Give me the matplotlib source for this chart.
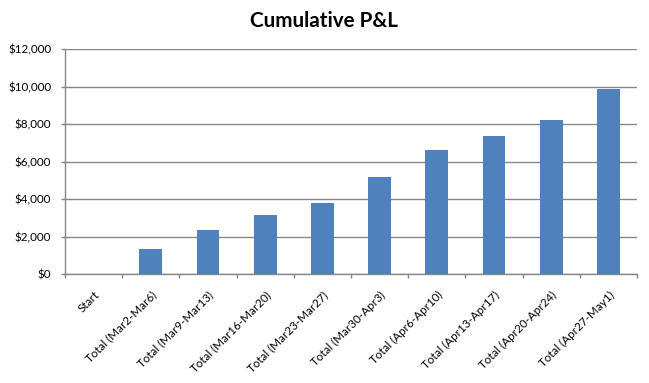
import numpy as np
import matplotlib
matplotlib.use("Agg")
import matplotlib.pyplot as plt
from matplotlib.ticker import FuncFormatter, MultipleLocator, FixedLocator

# Data
categories = ["Start", "Total (Mar2-Mar6)", "Total (Mar9-Mar13)", "Total (Mar16-Mar20)",
              "Total (Mar23-Mar27)", "Total (Mar30-Apr3)", "Total (Apr6-Apr10)",
              "Total (Apr13-Apr17)", "Total (Apr20-Apr24)", "Total (Apr27-May1)"]
pnl = [0, 1350, 2360, 3160, 3800, 5190, 6630, 7390, 8230, 9900]

plt.rcParams['font.family'] = ['Lato', 'DejaVu Sans']

fig = plt.figure(figsize=(6.49, 3.83), dpi=100)
ax = fig.add_axes([0.1002, 0.2846, 0.8813, 0.5866])

x = np.arange(len(categories))
ax.bar(x, pnl, width=0.4, color="#4F81BD", zorder=3)

# axes limits and grid
ax.set_xlim(-0.5, len(categories) - 0.5)
ax.set_ylim(0, 12000)
ax.yaxis.set_major_locator(MultipleLocator(2000))
ax.yaxis.set_major_formatter(FuncFormatter(lambda v, p: "${:,.0f}".format(v)))
ax.grid(axis="y", color="#868686", linewidth=1.0, zorder=0)

for s in ["top", "right"]:
    ax.spines[s].set_visible(False)
for s in ["left", "bottom"]:
    ax.spines[s].set_color("#868686")
    ax.spines[s].set_linewidth(1.0)

# labels at category centres, tick marks at boundaries
ax.set_xticks(x)
ax.set_xticklabels(categories, rotation=45, ha="right", rotation_mode="anchor")
ax.xaxis.set_minor_locator(FixedLocator(np.arange(-0.5, len(categories), 1.0)))
ax.tick_params(axis="x", which="major", length=0, pad=11, labelsize=8.4, colors="black")
ax.tick_params(axis="x", which="minor", length=3, color="#868686", width=1.0)
ax.tick_params(axis="y", length=3, color="#868686", width=1.0, labelsize=8.4, pad=7)

fig.text(0.5, 0.945, "Cumulative P&L", ha="center", va="center",
         fontsize=14.9, fontweight="bold")

fig.savefig("out.png", dpi=100)
